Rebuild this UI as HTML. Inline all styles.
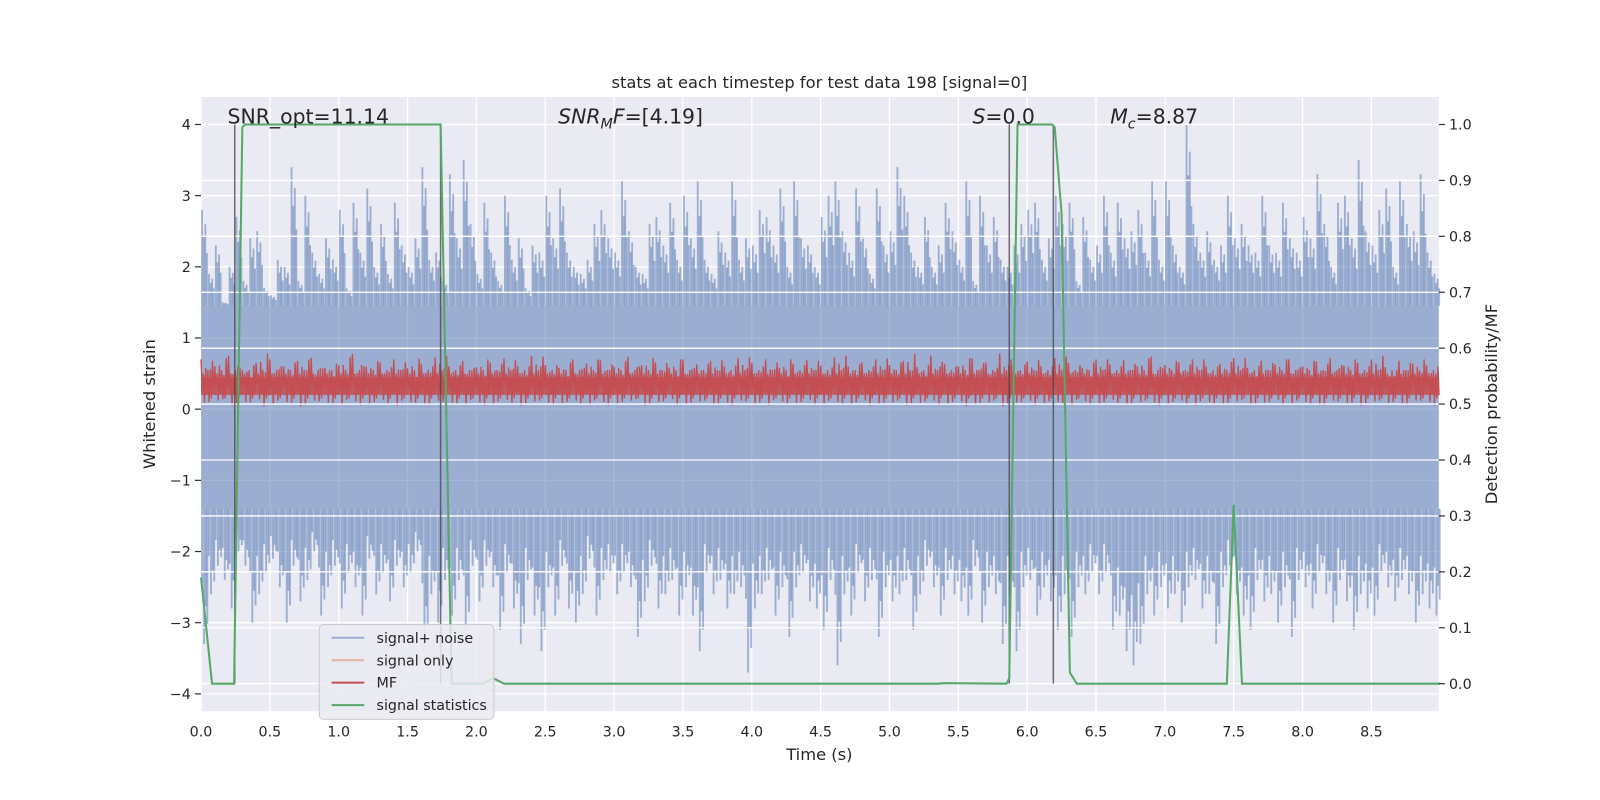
<!DOCTYPE html>
<html><head><meta charset="utf-8"><style>
html,body{margin:0;padding:0;background:#fff;overflow:hidden;width:1600px;height:800px;}
svg{display:block;}
svg text{font-family:"DejaVu Sans","Liberation Sans",sans-serif;fill:#262626;}
</style></head><body>
<svg id="c" width="1600" height="800" viewBox="0 0 1600 800" xmlns="http://www.w3.org/2000/svg">
<g transform="scale(1.0204)">
<rect x="197" y="95" width="1213" height="602" fill="#eaeaf2"/>
<g id="grid"></g><g id="marks"></g><g id="grid2"></g><g id="marks2"></g><g id="axes"></g>
<text x="803" y="86" font-size="16" text-anchor="middle">stats at each timestep for test data 198 [signal=0]</text>
<text x="803" y="745" font-size="16" text-anchor="middle">Time (s)</text>
<text transform="translate(152,396) rotate(-90)" font-size="16" text-anchor="middle">Whitened strain</text>
<text transform="translate(1467,396) rotate(-90)" font-size="16" text-anchor="middle">Detection probability/MF</text>
<text x="223" y="121" font-size="20">SNR_opt=11.14</text>
<text x="547" y="121" font-size="20"><tspan font-style="italic">SNR</tspan><tspan font-style="italic" font-size="14" dy="5">M</tspan><tspan font-style="italic" dy="-5">F</tspan>=[4.19]</text>
<text x="953" y="121" font-size="20"><tspan font-style="italic">S</tspan>=0.0</text>
<text x="1088" y="121" font-size="20"><tspan font-style="italic">M</tspan><tspan font-style="italic" font-size="14" dy="5">c</tspan><tspan dy="-5">=8.87</tspan></text>
<g>
<rect x="313" y="612" width="171" height="93" rx="4" fill="#eaeaf2" fill-opacity="0.85" stroke="#cccccc"/>
<line x1="325" y1="625" x2="357" y2="625" stroke="#4c72b0" stroke-opacity="0.5" stroke-width="2"/>
<text x="369" y="630" font-size="14">signal+ noise</text>
<line x1="325" y1="647" x2="357" y2="647" stroke="#dd8452" stroke-opacity="0.5" stroke-width="2"/>
<text x="369" y="652" font-size="14">signal only</text>
<line x1="325" y1="669" x2="357" y2="669" stroke="#c44e52" stroke-width="2"/>
<text x="369" y="674" font-size="14">MF</text>
<line x1="325" y1="691" x2="357" y2="691" stroke="#55a868" stroke-width="2"/>
<text x="369" y="696" font-size="14">signal statistics</text>
</g>
</g>
</svg>
<script>
const noiseHi=[2.8,1.9,2.3,1.5,2.0,2.7,1.8,2.4,2.5,1.7,1.6,2.1,2.0,3.4,1.8,3.0,2.2,1.9,2.4,2.1,2.8,1.7,2.9,2.2,3.1,2.0,2.6,1.9,2.9,2.3,2.0,2.4,3.4,2.1,2.2,1.8,3.3,2.4,3.5,2.6,1.9,2.9,2.2,1.8,3.0,2.1,2.4,1.7,2.3,2.2,3.0,2.4,3.1,2.2,2.0,1.9,2.1,2.6,2.8,2.4,2.2,3.2,2.5,2.0,1.9,2.6,2.7,2.3,2.9,2.1,3.0,2.4,3.2,2.1,1.9,2.5,2.2,3.2,2.1,2.4,2.3,2.8,2.7,2.3,3.1,2.0,3.2,2.4,2.3,2.0,2.7,3.0,3.2,2.5,2.2,3.1,2.4,1.9,3.1,2.3,2.5,3.4,3.0,2.2,2.0,2.7,2.0,2.3,2.9,2.5,2.1,3.2,1.8,3.0,2.3,2.7,2.1,2.0,2.3,2.6,2.8,2.9,2.1,2.4,3.0,2.6,2.9,1.8,2.7,2.1,2.3,3.0,2.2,2.9,2.4,2.5,2.8,2.2,3.2,2.1,3.2,2.3,2.0,4.0,2.6,2.2,2.5,2.1,2.3,3.0,2.4,2.6,2.3,2.2,3.0,2.3,2.2,2.9,2.4,2.2,2.7,2.4,3.3,2.6,2.0,2.9,3.0,2.4,3.5,2.5,2.3,2.8,3.1,2.0,3.2,2.6,2.5,3.3,2.2,1.9];
const noiseLo=[-3.3,-2.6,-2.2,-2.4,-2.8,-2.0,-2.2,-3.0,-2.6,-2.3,-2.1,-2.5,-3.0,-2.2,-2.7,-2.4,-2.0,-2.9,-2.5,-2.2,-2.8,-2.3,-2.5,-2.9,-2.1,-2.6,-2.3,-2.7,-2.2,-2.5,-2.3,-2.0,-3.3,-2.6,-3.0,-2.4,-2.9,-2.4,-3.1,-2.2,-2.7,-2.2,-2.5,-3.1,-2.3,-2.8,-3.3,-2.4,-2.9,-3.4,-2.5,-2.9,-2.2,-2.8,-3.0,-2.6,-2.1,-2.9,-2.4,-2.3,-2.6,-2.3,-2.5,-3.2,-2.7,-2.2,-2.8,-2.6,-2.4,-2.9,-2.5,-2.9,-3.4,-2.3,-2.6,-2.4,-2.8,-2.6,-2.5,-3.7,-2.8,-2.6,-2.4,-2.9,-2.5,-3.2,-2.5,-2.3,-2.7,-2.8,-3.1,-2.4,-3.6,-2.6,-2.9,-2.3,-2.7,-2.4,-3.2,-2.5,-2.7,-2.6,-2.4,-3.1,-2.6,-2.2,-2.5,-2.9,-2.4,-2.6,-2.7,-2.9,-2.2,-3.0,-2.5,-2.6,-3.3,-2.6,-3.4,-2.5,-2.4,-2.9,-2.5,-2.7,-3.1,-2.6,-3.2,-2.5,-2.6,-2.3,-2.6,-2.3,-3.1,-2.9,-3.4,-3.6,-3.3,-2.6,-2.9,-2.5,-2.8,-2.6,-3.0,-2.5,-2.4,-2.8,-2.6,-3.3,-2.5,-2.2,-2.6,-2.9,-3.1,-2.4,-2.7,-2.6,-3.0,-2.5,-3.2,-2.4,-2.5,-2.8,-2.3,-2.6,-3.0,-2.4,-2.7,-3.1,-2.6,-2.8,-2.9,-2.3,-2.5,-2.7,-2.4,-2.6,-3.0,-2.6,-2.8,-2.9];
const mfHi=[0.7,0.6,0.75,0.55,0.65,0.7,0.6,0.68,0.72,0.58,0.62,0.78,0.6,0.66,0.7,0.57,0.64,0.73,0.6,0.68,0.59,0.66,0.71,0.6,0.75,0.62,0.58,0.7,0.64,0.69,0.6,0.74,0.62,0.66,0.58,0.7,0.63,0.68,0.6,0.72,0.65,0.7,0.58,0.64,0.69,0.61,0.73,0.6,0.66,0.7,0.62,0.68,0.59,0.75,0.64,0.6,0.71,0.66,0.78,0.62,0.67,0.6,0.72,0.65,0.58,0.7,0.63,0.69,0.6,0.74,0.62,0.66,0.7,0.6,0.64,0.72,0.58,0.68,0.63,0.7,0.6,0.67,0.72,0.61,0.65,0.7,0.59,0.68,0.64,0.62];
const mfLo=[0.08,0.12,0.05,0.1,0.14,0.07,0.1,0.04,0.12,0.09,0.06,0.11,0.08,0.13,0.05,0.1,0.07,0.12,0.09,0.06,0.1,0.08,0.13,0.05,0.11,0.09,0.07,0.12,0.06,0.1,0.08,0.12,0.05,0.1,0.14,0.07,0.11,0.06,0.09,0.12,0.08,0.05,0.11,0.09,0.13,0.07,0.1,0.06,0.12,0.08,0.1,0.05,0.09,0.12,0.07,0.11,0.06,0.1,0.04,0.09,0.12,0.07,0.1,0.05,0.11,0.08,0.13,0.06,0.1,0.09,0.07,0.12,0.05,0.1,0.08,0.11,0.06,0.09,0.13,0.07,0.1,0.06,0.12,0.08,0.05,0.11,0.09,0.07,0.12,0.1];
const statT=[0,0.08,0.24,0.30,0.32,1.74,1.82,2.05,2.12,2.2,5.35,5.4,5.85,5.87,5.93,6.18,6.2,6.25,6.31,6.36,7.45,7.5,7.56,9.0];
const statV=[0.19,0,0,0.995,1.0,1.0,0,0,0.01,0,0,0.001,0,0.01,1.0,1.0,0.995,0.84,0.02,0,0,0.32,0,0];
const markerT=[0.245,1.74,5.87,6.19];
const xTicks=[0,0.5,1,1.5,2,2.5,3,3.5,4,4.5,5,5.5,6,6.5,7,7.5,8,8.5];
const yTicks=[-4,-3,-2,-1,0,1,2,3,4];
const y2Ticks=[0,0.1,0.2,0.3,0.4,0.5,0.6,0.7,0.8,0.9,1.0];

const NS="http://www.w3.org/2000/svg";
const X0=197,X1=1410,Y0=95,Y1=697;
const xs=t=>197+t*134.94;
const ys=v=>401-v*69.75;
const ys2=v=>670-v*548;
function mk(tag,parent,attrs){const e=document.createElementNS(NS,tag);for(const k in attrs)e.setAttribute(k,attrs[k]);document.getElementById(parent).appendChild(e);return e;}
xTicks.forEach(t=>{const e=mk('line','grid',{x1:xs(t),x2:xs(t),y1:Y0,y2:Y1,stroke:'#fff','stroke-width':1.3});

});
yTicks.forEach(v=>{const e=mk('line','grid',{x1:X0,x2:X1,y1:ys(v),y2:ys(v),stroke:'#fff','stroke-width':1.3});

});
y2Ticks.forEach(v=>{const e=mk('line','grid2',{x1:X0,x2:X1,y1:ys2(v),y2:ys2(v),stroke:'#fff','stroke-width':1.3});

});
const nc='rgba(76,114,176,0.5)';
const band=mk('rect','marks',{x:X0,y:ys(1.45),width:X1-X0,height:ys(-1.4)-ys(1.45),fill:nc});


const dt=9/noiseHi.length;
const fr=[[0.15,1],[0.4,0.72],[0.62,0.85],[0.85,0.55]];
noiseHi.forEach((v,i)=>{fr.forEach(f=>{const t=i*dt+f[0]*dt;const h=1.45+(v-1.45)*f[1];
const e=mk('rect','marks',{x:xs(t)-0.9,y:ys(h),width:1.8,height:ys(1.45)-ys(h),fill:nc});

});});
noiseLo.forEach((v,i)=>{fr.forEach(f=>{const t=i*dt+((f[0]+0.3)%1)*dt;const h=-1.4+(v+1.4)*f[1];
const e=mk('rect','marks',{x:xs(t)-0.9,y:ys(-1.4),width:1.8,height:ys(h)-ys(-1.4),fill:nc});

});});
const mc='#c44e52';
const mfb=mk('rect','marks',{x:X0,y:ys(0.45),width:X1-X0,height:ys(0.2)-ys(0.45),fill:mc,'fill-opacity':0.85});


const dm=9/mfHi.length;
let pts=[];
mfHi.forEach((v,i)=>{const lo=mfLo[i];const nh=mfHi[(i+7)%mfHi.length];const nl=mfLo[(i+3)%mfLo.length];
const seq=[v,lo+0.2,0.5,lo,nh*0.85,0.22,0.55,nl,v*0.8,0.15,nh,nl+0.15];
seq.forEach((s,k)=>pts.push(xs(i*dm+dm*k/seq.length).toFixed(1)+','+ys(s).toFixed(1)));});
const mfl=mk('polyline','marks',{points:pts.join(' '),fill:'none',stroke:mc,'stroke-width':1.3});


markerT.forEach(t=>{const e=mk('line','marks2',{x1:xs(t),x2:xs(t),y1:ys2(1),y2:ys2(0),stroke:'#444','stroke-opacity':0.75,'stroke-width':1.5});

});
const sp=statT.map((t,i)=>xs(t)+','+ys2(statV[i])).join(' ');
const sl=mk('polyline','marks2',{points:sp,fill:'none',stroke:'#55a868','stroke-width':2});


xTicks.forEach(t=>{const e=mk('text','axes',{x:xs(t),y:722,'font-size':14,'text-anchor':'middle'});e.textContent=t.toFixed(1);

});
yTicks.forEach(v=>{mk('line','axes',{x1:X0-6,x2:X0,y1:ys(v),y2:ys(v),stroke:'#333','stroke-width':1.2});
const e=mk('text','axes',{x:X0-10,y:ys(v)+5,'font-size':14,'text-anchor':'end'});e.textContent=v<0?'\u2212'+(-v):v;

});
y2Ticks.forEach(v=>{mk('line','axes',{x1:X1,x2:X1+6,y1:ys2(v),y2:ys2(v),stroke:'#333','stroke-width':1.2});
const e=mk('text','axes',{x:X1+10,y:ys2(v)+5,'font-size':14});e.textContent=v.toFixed(1);

});
</script>
</body></html>
